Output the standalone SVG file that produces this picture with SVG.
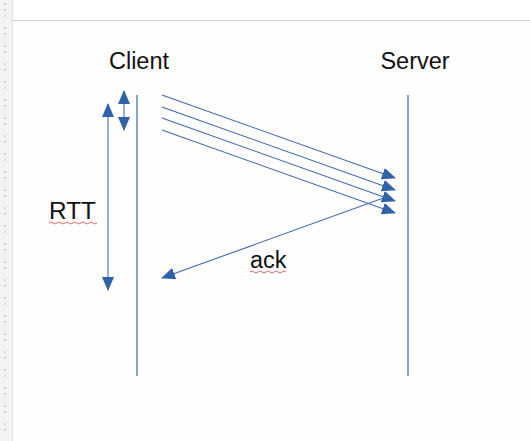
<svg xmlns="http://www.w3.org/2000/svg" width="530" height="441" viewBox="0 0 530 441">
<style>
.lbl{font-family:"Liberation Sans",Arial,sans-serif;font-size:23.5px;fill:#111}
.life{stroke:#4a74bd;stroke-width:1.3;fill:none}
.msg{stroke:#3e6aaf;stroke-width:1.1;fill:none}
.wavy{stroke:#e04040;stroke-width:0.8;fill:none}
.tick{stroke:#b8b8b8;stroke-width:1}
</style>
<defs>
<marker id="ah" markerUnits="userSpaceOnUse" markerWidth="14" markerHeight="12" refX="13" refY="6" orient="auto-start-reverse" viewBox="0 0 14 12">
<path d="M0,0 L14,6 L0,12 Z" fill="#2f62a8"/>
</marker>
</defs>
<rect width="530" height="441" fill="#fefefe"/>
<rect x="0" y="0" width="530" height="20" fill="#ffffff"/>
<line x1="13" y1="20.5" x2="530" y2="20.5" stroke="#d4d4d8" stroke-width="1"/>
<rect x="0" y="0" width="12" height="441" fill="#f3f3f3"/>
<line x1="12.5" y1="0" x2="12.5" y2="441" stroke="#e0e0e0"/>
<g id="ruler">
<path class="tick" d="M4,4h2M4,10h2M4,16h2M4,28h2M4,34h2M4,46h2M4,52h2M4,64h2M4,70h2M4,82h2M4,88h2M4,100h2M4,106h2M4,118h2M4,124h2M4,136h2M4,142h2M4,154h2M4,160h2M4,172h2M4,178h2M4,190h2M4,196h2M4,208h2M4,214h2M4,226h2M4,232h2M4,244h2M4,250h2M4,262h2M4,268h2M4,280h2M4,286h2M4,298h2M4,304h2M4,316h2M4,322h2M4,334h2M4,340h2M4,352h2M4,358h2M4,370h2M4,376h2M4,388h2M4,394h2M4,406h2M4,412h2M4,424h2M4,430h2"/>
</g>
<g id="client">
<text class="lbl" x="139" y="69" text-anchor="middle">Client</text>
<line class="life" x1="137" y1="95" x2="137" y2="376"/>
</g>
<g id="server">
<text class="lbl" x="415" y="69" text-anchor="middle">Server</text>
<line class="life" x1="408" y1="95" x2="408" y2="376"/>
</g>
<g id="rtt-label">
<text class="lbl" x="49" y="219" textLength="47" lengthAdjust="spacingAndGlyphs">RTT</text>
<path class="wavy" d="M49,223 q2,-2 4,0 t4,0 t4,0 t4,0 t4,0 t4,0 t4,0 t4,0 t4,0 t4,0 t4,0 t4,0"/>
</g>
<g id="ack-label">
<text class="lbl" x="250" y="268">ack</text>
<path class="wavy" d="M250,272 q2,-2 4,0 t4,0 t4,0 t4,0 t4,0 t4,0 t4,0 t4,0 t4,0"/>
</g>
<g id="connectors">
<line class="msg" x1="124" y1="91" x2="124" y2="130" marker-start="url(#ah)" marker-end="url(#ah)"/>
<line class="msg" x1="108" y1="104" x2="108" y2="290" marker-start="url(#ah)" marker-end="url(#ah)"/>
<line class="msg" x1="162" y1="95" x2="395" y2="178" marker-end="url(#ah)"/>
<line class="msg" x1="162" y1="107" x2="395" y2="190" marker-end="url(#ah)"/>
<line class="msg" x1="162" y1="118" x2="395" y2="201" marker-end="url(#ah)"/>
<line class="msg" x1="162" y1="130" x2="395" y2="213" marker-end="url(#ah)"/>
<line class="msg" x1="389" y1="196" x2="162" y2="278" marker-end="url(#ah)"/>
</g>
</svg>
